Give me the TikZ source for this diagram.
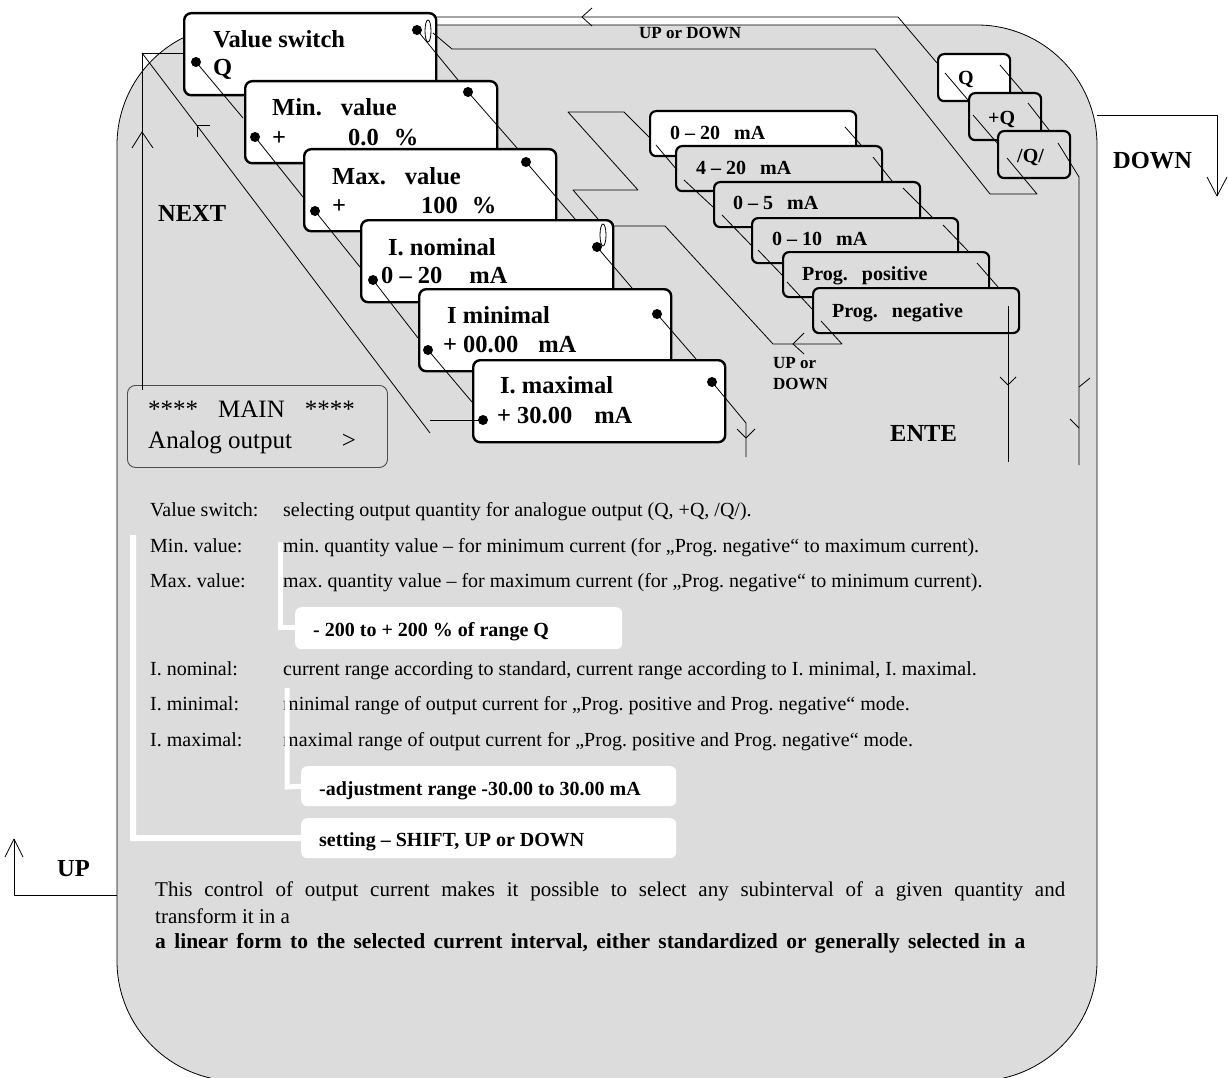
\documentclass[tikz,border=0pt]{standalone}
\usepackage{fontspec}
\usetikzlibrary{shapes.geometric}
\setmainfont{Liberation Serif}
\definecolor{bggray}{RGB}{220,220,220}
\frenchspacing
\begin{document}
\begin{tikzpicture}[x=1pt,y=-1pt,
  ln/.style={line width=0.8pt, line join=round},
  cbox/.style={draw, line width=2.4pt, rounded corners=7pt, fill=white, rectangle, inner sep=0pt, anchor=north west, minimum width=252pt, minimum height=82pt},
  mbox/.style={draw, line width=2.2pt, rounded corners=6pt, fill=bggray, rectangle, inner sep=0pt, anchor=north west, minimum width=206pt, minimum height=45pt},
  qbox/.style={mbox, minimum width=72pt, minimum height=47pt},
  wbox/.style={fill=white, rounded corners=6pt, rectangle, inner sep=0pt, anchor=north west},
  dotn/.style={circle, fill=black, inner sep=0pt, minimum size=10pt},
  ovaln/.style={ellipse, draw, line width=0.8pt, inner sep=0pt, minimum width=6pt, minimum height=22pt},
  tx/.style={anchor=base west, inner sep=0pt},
  hd/.style={tx, font=\fontsize{24.5}{28}\selectfont\bfseries},
  sb/.style={tx, font=\fontsize{20}{24}\selectfont\bfseries},
  lb/.style={tx, font=\fontsize{17}{20}\selectfont\bfseries},
  bd/.style={tx, font=\fontsize{20}{24}\selectfont},
  pr/.style={tx, font=\fontsize{21}{25}\selectfont},
  wl/.style={draw=white, line width=6pt},
]
\useasboundingbox (0,0) rectangle (1228,1078);
\clip (0,0) rectangle (1228,1078);
% background
\draw[fill=bggray, line width=0.8pt, rounded corners=120pt] (117,25) rectangle (1097,1081);

% MAIN box
\node[draw=black!70, line width=0.9pt, rounded corners=8pt, rectangle, inner sep=0pt, anchor=north west, minimum width=260pt, minimum height=82pt] (mainb) at (127,385) {};

% cascade boxes
\node[cbox] (b1) at (183,12) {};
\node[cbox] (b2) at (244,80) {};
\node[cbox] (b3) at (303,148) {};
\node[cbox] (b4) at (360,219) {};
\node[cbox] (b5) at (418,288) {};
\node[cbox] (b6) at (472,359) {};

% mA boxes
\node[mbox, fill=white] (ma) at (649,110) {};
\node[mbox] (mb) at (675,145) {};
\node[mbox] (mc) at (713,181) {};
\node[mbox] (md) at (751,217) {};
\node[mbox] (me) at (782,251) {};
\node[mbox] (mf) at (812,287) {};

% Q boxes
\node[qbox, fill=white] (qa) at (937,53) {};
\node[qbox] (qb) at (968,92) {};
\node[qbox] (qc) at (997,130) {};

% ovals and dots
\node[ovaln] (o1) at (428,31) {};
\node[ovaln] (o4) at (603,235) {};
\node[dotn] (d1l) at (196,62) {};
\node[dotn] (d1r) at (417,30) {};
\node[dotn] (d2l) at (255,137) {};
\node[dotn] (d2r) at (468,92) {};
\node[dotn] (d3l) at (315,211) {};
\node[dotn] (d3r) at (526,162) {};
\node[dotn] (d4l) at (373,280) {};
\node[dotn] (d4r) at (597,247) {};
\node[dotn] (d5l) at (428,350) {};
\node[dotn] (d5r) at (657,314) {};
\node[dotn] (d6l) at (483,420) {};
\node[dotn] (d6r) at (712,382) {};

% NEXT loop
\coordinate (n0) at (142,53);
\draw[ln] (b1.west |- n0) -- (n0) -- (142,390);
\draw[ln] (132,148) -- (142,132) -- (153,148);
\coordinate (n1) at (430,433);
\draw[ln] (n0) -- (n1);
\draw[ln] (210,125) -- (197,125) -- (197,137);
\draw[ln] (430,420) -- (d6l.center);

% cascade connectors
\draw[ln] (d1l.center) -- (243,118);
\draw[ln] (d1r.center) -- (458,80);
\draw[ln] (d2l.center) -- (303,197);
\draw[ln] (d2r.center) -- (517,148);
\draw[ln] (d3l.center) -- (360,267);
\draw[ln] (d3r.center) -- (575,219);
\draw[ln] (d4l.center) -- (418,338);
\draw[ln] (d4r.center) -- (632,288);
\draw[ln] (d5l.center) -- (472,402);
\draw[ln] (d5r.center) -- (696,359);
\draw[ln] (d6r.center) -- (746,423) -- (746,457);
\draw[ln] (737,429) -- (746,438) -- (755,429);

% top lines
\draw[ln] (437,17) -- (898,17) -- (937,63);
\draw[ln] (592,8) -- (582,17) -- (592,26);
\draw[ln] (433,33) -- (452,49) -- (875,49) -- (990,194) -- (1037,194) -- (1007,158);

% I. nominal loop
\draw[ln] (612,226) -- (665,226) -- (773,344) -- (842,344) -- (821,321);
\draw[ln] (804,333) -- (793,344) -- (804,354);

% zigzag to mA boxes
\draw[ln] (598,219) -- (573,190) -- (638,190) -- (568,112) -- (624,112) -- (649,137);

% mA stack connectors
\draw[ln] (656,145) -- (677,170);
\draw[ln] (684,180) -- (713,207);
\draw[ln] (722,215) -- (751,245);
\draw[ln] (758,250) -- (782,275);
\draw[ln] (787,282) -- (812,309);
\draw[ln] (845,127) -- (861,145);
\draw[ln] (873,157) -- (892,181);
\draw[ln] (903,188) -- (932,217);
\draw[ln] (943,225) -- (968,251);
\draw[ln] (977,263) -- (998,287);
\draw[ln] (1008,306) -- (1008,462);
\draw[ln] (1000,377) -- (1008,385) -- (1016,377);

% Q stack connectors
\draw[ln] (945,73) -- (968,100);
\draw[ln] (1000,65) -- (1023,92);
\draw[ln] (973,115) -- (997,143);
\draw[ln] (1028,103) -- (1049,130);
\draw[ln] (1058,143) -- (1079,177) -- (1079,465);
\draw[ln] (1079,387) -- (1090,378);
\draw[ln] (1070,419) -- (1079,428);

% DOWN arrow
\draw[ln] (1097,115) -- (1217,115) -- (1217,196);
\draw[ln] (1207,177) -- (1217,196) -- (1227,177);
% UP arrow
\draw[ln] (117,895) -- (14,895) -- (14,839);
\draw[ln] (5,857) -- (14,839) -- (23,857);

% box texts
\node[hd] (t1a) at (213,48) {Value switch};
\node[hd] (t1b) at (213,76) {Q};
\node[hd] (t2a) at (272,116) {Min.\hspace{19pt}value};
\node[hd] (t2b) at (272,146) {+\hspace{62pt}0.0\hspace{15pt}\%};
\node[hd] (t3a) at (332,185) {Max.\hspace{19pt}value};
\node[hd] (t3b) at (332,213) {+\hspace{75pt}100\hspace{14pt}\%};
\node[hd] (t4a) at (388,255) {I. nominal};
\node[hd] (t4b) at (381,283) {0 – 20\hspace{27pt}mA};
\node[hd] (t5a) at (447,323) {I minimal};
\node[hd] (t5b) at (443,352) {+\hspace{6pt}00.00\hspace{20pt}mA};
\node[hd] (t6a) at (500,393) {I. maximal};
\node[hd] (t6b) at (497,423) {+\hspace{6pt}30.00\hspace{22pt}mA};

\node[sb] (tma) at (670,140) {0 – 20\hspace{14pt}mA};
\node[sb] (tmb) at (696,175) {4 – 20\hspace{14pt}mA};
\node[sb] (tmc) at (733,210) {0 – 5\hspace{14pt}mA};
\node[sb] (tmd) at (772,245) {0 – 10\hspace{14pt}mA};
\node[sb] (tme) at (802,280) {Prog.\hspace{14pt}positive};
\node[sb] (tmf) at (832,317) {Prog.\hspace{14pt}negative};

\node[sb] (tqa) at (958,85) {Q};
\node[sb] (tqb) at (988,125) {+Q};
\node[sb] (tqc) at (1017,163) {/Q/};

\node[lb] (lud1) at (639,39) {UP or DOWN};
\node[lb] (lud2) at (773,368) {UP or};
\node[lb] (lud3) at (773,389) {DOWN};
\node[hd] (ldown) at (1113,169) {DOWN};
\node[hd] (lnext) at (158,222) {NEXT};
\node[hd] (lente) at (890,441) {ENTE};
\node[hd] (lup) at (57,876) {UP};

\node[tx, font=\fontsize{25}{30}\selectfont] (mt1) at (148,417) {****\hspace{20pt}MAIN\hspace{20pt}****};
\node[tx, font=\fontsize{25}{30}\selectfont] (mt2) at (148,448) {Analog output\hspace{50pt}>};

% body text
\node[bd] (k1) at (150,516) {Value switch:};
\node[bd] (v1) at (283,516) {selecting output quantity for analogue output (Q, +Q, /Q/).};
\node[bd] (k2) at (150,552) {Min. value:};
\node[bd] (v2) at (283,552) {min. quantity value – for minimum current (for „Prog. negative“ to maximum current).};
\node[bd] (k3) at (150,587) {Max. value:};
\node[bd] (v3) at (283,587) {max. quantity value – for maximum current (for „Prog. negative“ to minimum current).};
\node[bd] (k4) at (150,675) {I. nominal:};
\node[bd] (v4) at (283,675) {current range according to standard, current range according to I. minimal, I. maximal.};
\node[bd] (k5) at (150,710) {I. minimal:};
\node[bd] (v5) at (283,710) {minimal range of output current for „Prog. positive and Prog. negative“ mode.};
\node[bd] (k6) at (150,746) {I. maximal:};
\node[bd] (v6) at (283,746) {maximal range of output current for „Prog. positive and Prog. negative“ mode.};

\node[wbox, minimum width=327pt, minimum height=42pt] (wb1) at (295,607) {};
\node[wbox, minimum width=375pt, minimum height=40pt] (wb2) at (301,766) {};
\node[wbox, minimum width=375pt, minimum height=40pt] (wb3) at (301,818) {};
\node[sb] (w1t) at (313,636) {- 200 to + 200 \% of range Q};
\node[sb] (w2t) at (319,795) {-adjustment range -30.00 to 30.00 mA};
\node[sb] (w3t) at (319,846) {setting – SHIFT, UP or DOWN};

% white brackets
\draw[wl] (133,535) -- (133,838) -- (wb3.west);
\draw[wl, line width=5pt] (280,542) -- (280,627) -- (wb1.west |- 0,627);
\draw[wl, line width=5pt] (287,688) -- (287,787) -- (wb2.west);

% paragraph
\node[pr] (p1) at (155,896) {\makebox[910pt][s]{This control of output current makes it possible to select any subinterval of a given quantity and}};
\node[pr] (p2) at (155,923) {transform it in a};
\node[pr, font=\fontsize{21.5}{25}\selectfont\bfseries] (p3) at (155,948) {\makebox[870pt][s]{a linear form to the selected current interval, either standardized or generally selected in a}};
\end{tikzpicture}
\end{document}
